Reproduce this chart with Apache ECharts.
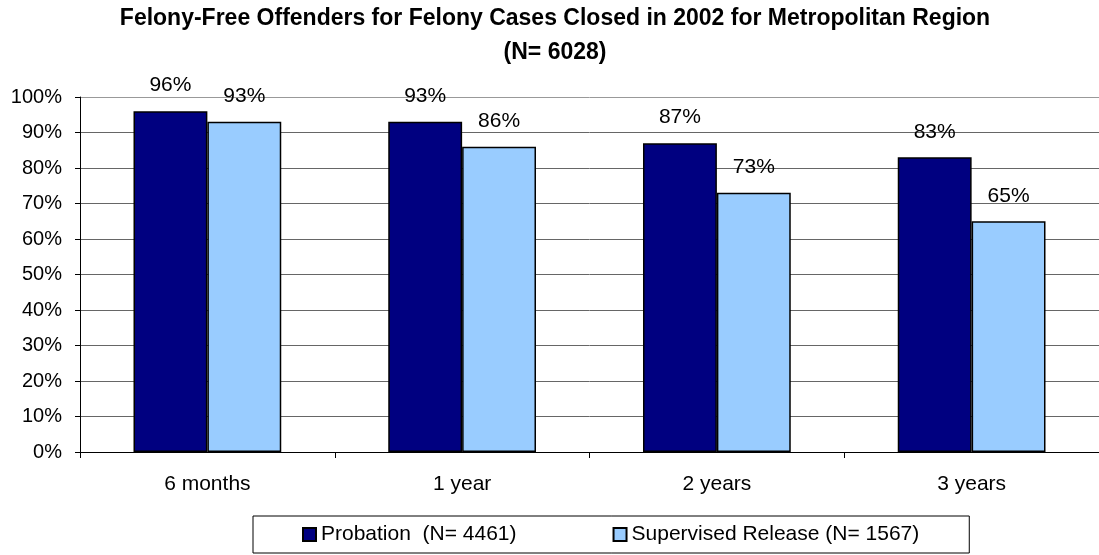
<!DOCTYPE html>
<html>
<head>
<meta charset="utf-8">
<script src="https://cdn.jsdelivr.net/npm/echarts@6/dist/echarts.min.js"></script>
<style>
  html, body { margin: 0; padding: 0; background: #fff; }
  #chart { width: 1099px; height: 555px; }
</style>
</head>
<body>
<div id="chart"></div>
<script>
// 数据
const categories = ['6 months', '1 year', '2 years', '3 years'];
const probation = [96, 93, 87, 83];
const supervised = [93, 86, 73, 65];
const seriesNames = ['Probation  (N= 4461)', 'Supervised Release (N= 1567)'];
const titleText = 'Felony-Free Offenders for Felony Cases Closed in 2002 for Metropolitan Region\n(N= 6028)';

const fontFamily = '"Liberation Sans", Arial, sans-serif';

// 柱子公共配置
const barSeries = (name, data, color) => ({
  name,
  type: 'bar',
  data,
  barGap: '0%',
  barCategoryGap: '42%',
  itemStyle: {
    color,
    borderColor: '#000',
    borderWidth: 1.5
  },
  label: {
    show: true,
    position: 'top',
    distance: 15,
    formatter: '{c}%',
    fontFamily,
    fontSize: 21,
    color: '#000'
  }
});

const chart = echarts.init(document.getElementById('chart'));
chart.setOption({
  animation: false,
  backgroundColor: '#fff',
  title: {
    text: titleText,
    left: 555,
    textAlign: 'center',
    top: 2,
    padding: 0,
    textStyle: {
      fontFamily,
      fontSize: 23,
      fontWeight: 'bold',
      lineHeight: 34,
      color: '#000'
    }
  },
  legend: {
    left: 253,
    top: 516,
    orient: 'horizontal',
    padding: [8, 50, 8, 49],
    itemGap: 96,
    itemWidth: 13,
    itemHeight: 13,
    icon: 'rect',
    borderColor: '#000',
    borderWidth: 1,
    textStyle: {
      fontFamily,
      fontSize: 21,
      color: '#000'
    },
    data: seriesNames
  },
  grid: {
    left: 80,
    top: 97,
    width: 1023,
    height: 355,
    containLabel: false
  },
  xAxis: {
    type: 'category',
    data: categories,
    axisLine: { lineStyle: { color: '#000', width: 1 } },
    axisTick: { show: true, length: 6, lineStyle: { color: '#000' } },
    axisLabel: {
      margin: 22,
      fontFamily,
      fontSize: 21,
      color: '#000'
    }
  },
  yAxis: {
    type: 'value',
    min: 0,
    max: 100,
    interval: 10,
    axisLine: { show: true, lineStyle: { color: '#000', width: 1 } },
    axisTick: { show: true, length: 5, lineStyle: { color: '#000' } },
    axisLabel: {
      margin: 18,
      formatter: '{value}%',
      fontFamily,
      fontSize: 20,
      color: '#000'
    },
    splitLine: {
      lineStyle: {
        // 最上面一条是绘图区边框，颜色偏浅
        color: ['#666', '#666', '#666', '#666', '#666', '#666', '#666', '#666', '#666', '#666', '#999'],
        width: 1
      }
    }
  },
  series: [
    barSeries(seriesNames[0], probation, '#000080'),
    barSeries(seriesNames[1], supervised, '#99CCFF')
  ]
});
</script>
</body>
</html>
